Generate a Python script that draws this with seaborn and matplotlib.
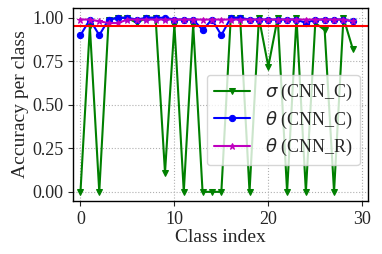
import seaborn as sns
import matplotlib.pyplot as plt
import pandas as pd

classes = list(range(30))
sigma_cnn_c = [0.0, 0.95, 0.0, 0.99, 1.0, 1.0, 0.97, 1.0, 1.0, 0.11,
               0.96, 0.0, 0.96, 0.0, 0.0, 0.0, 1.0, 1.0, 0.0, 1.0,
               0.72, 1.0, 0.0, 1.0, 0.0, 0.97, 0.93, 0.0, 1.0, 0.82]
theta_cnn_c = [0.90, 0.99, 0.90, 0.99, 1.0, 1.0, 0.99, 1.0, 1.0, 1.0,
               0.99, 0.99, 0.99, 0.93, 0.99, 0.90, 1.0, 1.0, 0.99, 0.99,
               0.99, 0.99, 0.99, 0.99, 0.97, 0.99, 0.99, 0.99, 0.99, 0.98]
theta_cnn_r = [0.99, 0.99, 0.98, 0.97, 0.97, 0.99, 0.99, 0.99, 0.99, 0.99,
               0.99, 0.99, 0.99, 0.99, 0.99, 0.99, 0.99, 0.99, 0.99, 0.99,
               0.99, 0.99, 0.99, 0.99, 0.99, 0.99, 0.99, 0.99, 0.99, 0.98]
threshold = 0.95

sns.set_style("whitegrid", {"grid.linestyle": ":", "grid.color": "#b0b0b0",
                            "axes.edgecolor": "black"})
plt.rcParams['font.family'] = ['Liberation Serif', 'DejaVu Serif']
plt.rcParams['mathtext.fontset'] = 'dejavusans'

df = pd.DataFrame({'cls': classes, 'sigma_c': sigma_cnn_c,
                   'theta_c': theta_cnn_c, 'theta_r': theta_cnn_r})

fig, ax = plt.subplots(figsize=(3.82, 2.54), dpi=100)
fig.subplots_adjust(left=0.191, right=0.963, top=0.969, bottom=0.209)

sns.lineplot(data=df, x='cls', y='sigma_c', ax=ax, color='g', marker='v',
             markersize=5, markeredgecolor='g', label=r'$\sigma$ (CNN_C)')
sns.lineplot(data=df, x='cls', y='theta_c', ax=ax, color='b', marker='o',
             markersize=4.5, markeredgecolor='b', label=r'$\theta$ (CNN_C)')
sns.lineplot(data=df, x='cls', y='theta_r', ax=ax, color='m', marker='*',
             markersize=5, markeredgecolor='m', label=r'$\theta$ (CNN_R)')
ax.axhline(threshold, color='r', linewidth=1.5)

ax.set_xlim(-0.8, 30.6)
ax.set_ylim(-0.052, 1.057)
ax.set_xticks([0, 10, 20, 30])
ax.set_yticks([0, 0.25, 0.5, 0.75, 1.0])
ax.set_yticklabels(['0.00', '0.25', '0.50', '0.75', '1.00'])
ax.tick_params(labelsize=13, length=3.5, left=True, bottom=True, pad=3.5)
for s in ax.spines.values():
    s.set_linewidth(1.0)

ax.set_xlabel('Class index', fontsize=14, labelpad=1)
ax.set_ylabel('Accuracy per class', fontsize=14, labelpad=2)
ax.legend(loc='upper right', bbox_to_anchor=(0.973, 0.653), fontsize=13,
          handlelength=2.0, labelspacing=0.35, borderaxespad=0,
          framealpha=0.8)

fig.savefig('out.png', dpi=100)
